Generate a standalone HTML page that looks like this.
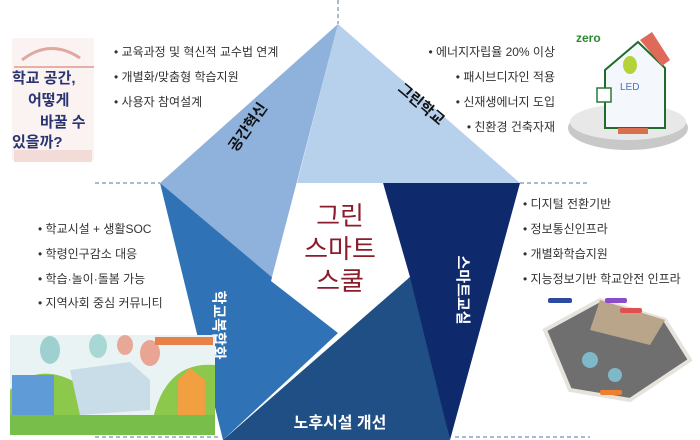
<!DOCTYPE html>
<html><head><meta charset="utf-8"><style>
html,body{margin:0;padding:0;background:#fff;}
svg{display:block;}
text{font-family:"Liberation Sans","Noto Sans CJK KR",sans-serif;}
</style></head><body>
<svg width="700" height="440" viewBox="0 0 700 440" xmlns="http://www.w3.org/2000/svg">
<rect width="700" height="440" fill="#fff"/>
<g stroke="#8da3bf" stroke-width="1.5" stroke-dasharray="4,3" fill="none">
<line x1="338" y1="0" x2="338" y2="24"/>
<line x1="95" y1="183" x2="160" y2="183"/>
<line x1="520" y1="183" x2="590" y2="183"/>
<line x1="95" y1="437" x2="220" y2="437"/>
<line x1="455" y1="437" x2="590" y2="437"/>
</g>
<polygon points="338,24 520,183 297,183" fill="#b7d0eb"/>
<polygon points="338,24 160,183 271,281" fill="#8eb2dc"/>
<polygon points="160,183 223,440 338,333" fill="#2f73b6"/>
<polygon points="383,183 520,183 450,440" fill="#0f2a6c"/>
<polygon points="223,440 450,440 410,277" fill="#1f4f85"/>
<polygon points="297,183 383,183 410,277 338,333 271,281" fill="#fff"/>
<g fill="#8a1c2c" font-size="26" text-anchor="middle">
<text x="340" y="225">그린</text>
<text x="340" y="258">스마트</text>
<text x="340" y="290">스쿨</text>
</g>
<text x="0" y="0" font-size="15" font-weight="bold" fill="#111" text-anchor="middle" transform="translate(252,130) rotate(-55)">공간혁신</text>
<text x="0" y="0" font-size="15" font-weight="bold" fill="#111" text-anchor="middle" transform="translate(418,108) rotate(40)">그린학교</text>
<text x="0" y="0" font-size="15" font-weight="bold" fill="#fff" text-anchor="middle" transform="translate(214,325) rotate(90)">학교복합화</text>
<text x="0" y="0" font-size="15" font-weight="bold" fill="#fff" text-anchor="middle" transform="translate(458,290) rotate(90)">스마트교실</text>
<text x="340" y="428" font-size="16" font-weight="bold" fill="#fff" text-anchor="middle">노후시설 개선</text>
<g font-size="12" fill="#333">
<text x="114" y="56">• 교육과정 및 혁신적 교수법 연계</text>
<text x="114" y="81">• 개별화/맞춤형 학습지원</text>
<text x="114" y="106">• 사용자 참여설계</text>
<text x="38" y="233">• 학교시설 + 생활SOC</text>
<text x="38" y="258">• 학령인구감소 대응</text>
<text x="38" y="283">• 학습·놀이·돌봄 가능</text>
<text x="38" y="307">• 지역사회 중심 커뮤니티</text>
<text x="523" y="208">• 디지털 전환기반</text>
<text x="523" y="233">• 정보통신인프라</text>
<text x="523" y="258">• 개별화학습지원</text>
<text x="523" y="283">• 지능정보기반 학교안전 인프라</text>
</g>
<g font-size="12" fill="#333" text-anchor="end">
<text x="555" y="56">• 에너지자립율 20% 이상</text>
<text x="555" y="81">• 패시브디자인 적용</text>
<text x="555" y="106">• 신재생에너지 도입</text>
<text x="555" y="131">• 친환경 건축자재</text>
</g>
<g>
<rect x="12" y="38" width="82" height="122" fill="#fbf3f1"/>
<path d="M22 60 Q50 38 80 58" stroke="#e0a8a0" stroke-width="3" fill="none"/>
<rect x="14" y="66" width="80" height="2" fill="#e6b0a8"/>
<g font-size="15" font-weight="bold" fill="#2a3470">
<text x="12" y="83">학교 공간,</text>
<text x="28" y="105">어떻게</text>
<text x="40" y="127">바꿀 수</text>
<text x="12" y="147">있을까?</text>
</g>
<rect x="14" y="150" width="78" height="12" fill="#f3dcd8"/>
</g>
<g>
<ellipse cx="628" cy="128" rx="60" ry="22" fill="#c8c8c8"/>
<ellipse cx="628" cy="122" rx="58" ry="18" fill="#e8e8e8"/>
<polygon points="605,70 638,42 665,68 665,128 605,128" fill="#f4f8fc" stroke="#1f6b2a" stroke-width="2"/>
<polygon points="640,40 652,32 670,60 662,66" fill="#e06a5a"/>
<ellipse cx="630" cy="65" rx="7" ry="9" fill="#b5d23a"/>
<text x="620" y="90" font-size="10" fill="#5070c0">LED</text>
<rect x="597" y="88" width="14" height="14" fill="#fff" stroke="#2a7a30" stroke-width="1.5"/>
<text x="576" y="42" font-size="12" font-weight="bold" fill="#2a8a30">zero</text>
<rect x="618" y="128" width="30" height="6" fill="#d87050"/>
</g>
<g>
<rect x="10" y="335" width="205" height="100" fill="#eaf3f4"/>
<ellipse cx="50" cy="350" rx="10" ry="14" fill="#9ed0d0"/>
<ellipse cx="98" cy="346" rx="9" ry="12" fill="#a8d8d4"/>
<ellipse cx="125" cy="345" rx="8" ry="10" fill="#e8a898"/>
<ellipse cx="150" cy="353" rx="10" ry="13" fill="#eaa494"/>
<path d="M10 390 Q40 360 80 385 L80 435 L10 435Z" fill="#8cc84c"/>
<path d="M150 435 Q160 360 215 365 L215 435Z" fill="#8cc84c"/>
<rect x="12" y="375" width="42" height="40" fill="#5f9bd6"/>
<polygon points="70,370 130,362 150,380 150,410 80,415" fill="#c9dde8"/>
<polygon points="178,380 190,368 205,380 205,415 178,415" fill="#f0a040"/>
<rect x="10" y="415" width="205" height="20" fill="#78be4a"/>
<rect x="155" y="337" width="58" height="8" fill="#e8804a"/>
</g>
<g>
<polygon points="545,330 600,300 665,320 690,360 630,400 570,390" fill="#6f6f6f" stroke="#e6e2dc" stroke-width="4"/>
<polygon points="600,300 665,320 650,345 590,330" fill="#b9a58a"/>
<circle cx="590" cy="360" r="8" fill="#7fb8c8"/>
<circle cx="615" cy="375" r="7" fill="#7fb8c8"/>
<rect x="548" y="298" width="24" height="5" rx="2" fill="#2c4aa0"/>
<rect x="605" y="298" width="22" height="5" rx="2" fill="#8a4cc8"/>
<rect x="620" y="308" width="22" height="5" rx="2" fill="#e05050"/>
<rect x="600" y="390" width="22" height="5" rx="2" fill="#f08030"/>
</g>
</svg>
</body></html>
